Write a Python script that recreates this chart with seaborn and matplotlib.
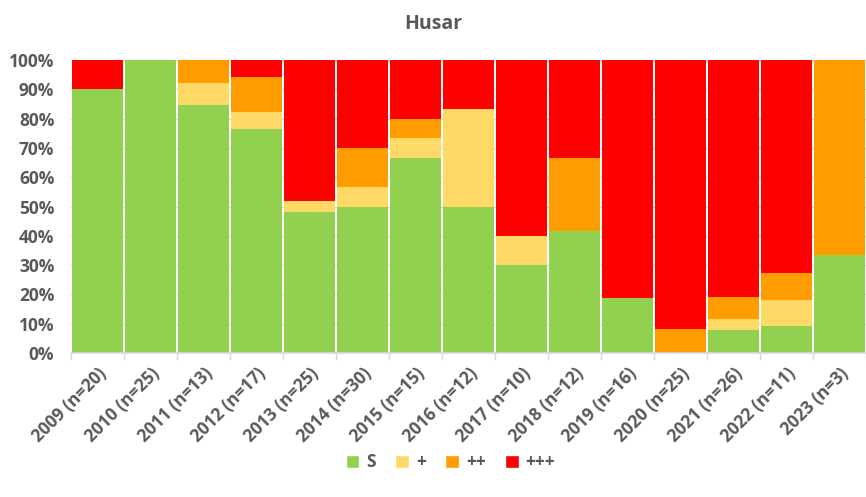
import numpy as np
import pandas as pd
import matplotlib
matplotlib.use("Agg")
import matplotlib.pyplot as plt
from matplotlib.patches import Patch
from matplotlib.ticker import PercentFormatter
import seaborn as sns

years = ["2009", "2010", "2011", "2012", "2013", "2014", "2015", "2016",
         "2017", "2018", "2019", "2020", "2021", "2022", "2023"]
categories = ["S", "+", "++", "+++"]
# antal per kategori och år
count_s = [18, 25, 11, 13, 12, 15, 10, 6, 3, 5, 3, 0, 2, 1, 1]
count_p1 = [0, 0, 1, 1, 1, 2, 1, 4, 1, 0, 0, 0, 1, 1, 0]
count_p2 = [0, 0, 1, 2, 0, 4, 1, 0, 0, 3, 0, 2, 2, 1, 2]
count_p3 = [2, 0, 0, 1, 12, 9, 3, 2, 6, 4, 13, 23, 21, 8, 0]
colors = ["#92D050", "#FFD966", "#FF9C00", "#FF0000"]

counts = [count_s, count_p1, count_p2, count_p3]
n_total = np.sum(counts, axis=0)
labels = [f"{y} (n={n})" for y, n in zip(years, n_total)]

rows = []
for cat, vals in zip(categories, counts):
    for lab, v in zip(labels, vals):
        rows.append({"year": lab, "cat": cat, "count": v})
df = pd.DataFrame(rows)
df["year"] = pd.Categorical(df["year"], categories=labels, ordered=True)

sns.set_theme(style="white")
plt.rcParams["font.family"] = ["Open Sans", "DejaVu Sans"]

fig = plt.figure(figsize=(8.66, 4.97), dpi=100)
ax = fig.add_axes([0.082, 0.290, 0.918, 0.589])

sns.histplot(data=df, x="year", hue="cat", weights="count", multiple="fill",
             hue_order=categories[::-1], palette=dict(zip(categories, colors)),
             discrete=True, shrink=0.96, alpha=1, linewidth=0,
             legend=False, ax=ax, zorder=2)

ax.set_xlim(-0.5, len(labels) - 0.5)
ax.set_ylim(0, 1)
ax.set_yticks(np.arange(0, 1.01, 0.1))
ax.yaxis.set_major_formatter(PercentFormatter(1.0, decimals=0))
ax.grid(axis="y", color="#D9D9D9", linewidth=1, zorder=0)
ax.set_axisbelow(True)

ax.set_xticks(range(len(labels)))
ax.set_xticklabels(labels, rotation=45, ha="right", rotation_mode="anchor")
ax.set_xticks(np.arange(-0.5, len(labels), 1), minor=True)
ax.tick_params(axis="x", which="major", length=0, pad=8)
ax.tick_params(axis="x", which="minor", length=5, color="#D9D9D9", bottom=True)
ax.tick_params(axis="both", labelsize=12.5, labelcolor="#595959")
ax.tick_params(axis="y", pad=6)
for t in ax.get_xticklabels() + ax.get_yticklabels():
    t.set_fontweight("bold")

ax.set_xlabel("")
ax.set_ylabel("")
for s in ax.spines.values():
    s.set_visible(False)
ax.spines["bottom"].set_visible(True)
ax.spines["bottom"].set_color("#D9D9D9")

fig.suptitle("Husar", x=0.5, y=0.972, fontsize=14, fontweight="bold", color="#595959")

handles = [Patch(facecolor=c, label=l) for c, l in zip(colors, categories)]
leg = fig.legend(handles=handles, loc="center", bbox_to_anchor=(0.52, 0.07), ncol=4,
                 frameon=False, fontsize=12.5, handlelength=0.8, handleheight=0.8,
                 handletextpad=0.4, columnspacing=1.1, labelcolor="#595959")
for t in leg.get_texts():
    t.set_fontweight("bold")

fig.savefig("out.png", dpi=100)
